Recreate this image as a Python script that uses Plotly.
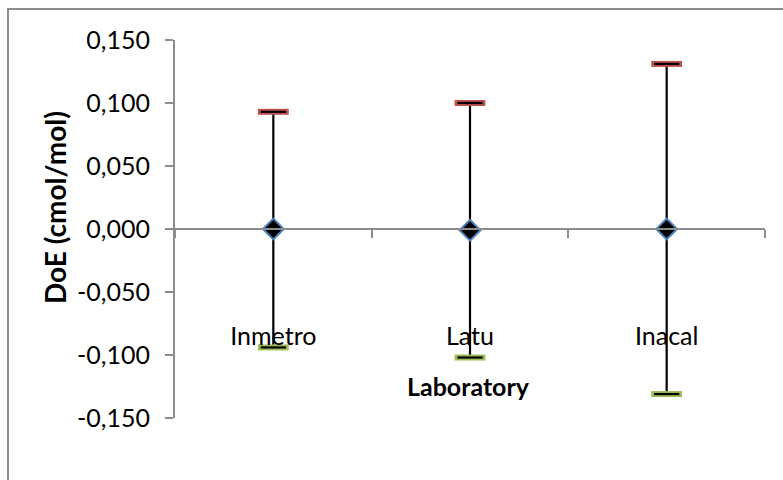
import plotly.graph_objects as go

labs = ["Inmetro", "Latu", "Inacal"]
doe = [0.000, -0.001, 0.000]
upper = [0.093, 0.100, 0.131]
lower = [-0.094, -0.102, -0.131]
yticks = [-0.150, -0.100, -0.050, 0.000, 0.050, 0.100, 0.150]
yticktext = [("%.3f" % v).replace(".", ",") for v in yticks]

FONT = "Lato"
fig = go.Figure()

# vertical high-low lines via error bars
fig.add_trace(go.Scatter(
    x=labs, y=doe, mode="markers",
    marker=dict(size=0.1, color="rgba(0,0,0,0)"),
    error_y=dict(type="data", symmetric=False,
                 array=[u - d for u, d in zip(upper, doe)],
                 arrayminus=[d - l for l, d in zip(lower, doe)],
                 color="black", thickness=2.2, width=0),
    showlegend=False, hoverinfo="skip"))

# caps
fig.add_trace(go.Scatter(x=labs, y=upper, mode="markers",
    marker=dict(symbol="line-ew", size=22, line=dict(color="#C0504D", width=6)),
    showlegend=False))
fig.add_trace(go.Scatter(x=labs, y=lower, mode="markers",
    marker=dict(symbol="line-ew", size=22, line=dict(color="#9BBB59", width=6)),
    showlegend=False))
fig.add_trace(go.Scatter(x=labs + labs, y=upper + lower, mode="markers",
    marker=dict(symbol="line-ew", size=18, line=dict(color="black", width=2.2)),
    showlegend=False))

# diamonds
fig.add_trace(go.Scatter(x=labs, y=doe, mode="markers",
    marker=dict(symbol="diamond", size=16, color="black",
                line=dict(color="#4F81BD", width=2)),
    showlegend=False))

fig.update_layout(
    width=783, height=480,
    margin=dict(l=175, r=18, t=40, b=62),
    paper_bgcolor="white", plot_bgcolor="white",
    font=dict(family=FONT, size=25, color="black"),
    xaxis=dict(
        type="category", range=[-0.5, 2.5],
        showline=True, linecolor="#8c8c8c", linewidth=2,
        ticks="outside", ticklen=8, tickcolor="#8c8c8c", tickwidth=2,
        tickson="boundaries", showgrid=False, zeroline=False,
        anchor="free", position=0.5,
        ticklabelstandoff=85,
    ),
    yaxis=dict(
        range=[-0.15, 0.15], tickvals=yticks, ticktext=yticktext,
        showline=True, linecolor="#8c8c8c", linewidth=2,
        ticks="outside", ticklen=8, tickcolor="#8c8c8c", tickwidth=2,
        ticklabelstandoff=10,
        showgrid=False, zeroline=False,
    ),
    annotations=[
        dict(text="<b>DoE (cmol/mol)</b>", textangle=-90,
             xref="paper", yref="paper",
             x=-120 / 590, y=(418 - 207) / 378,
             xanchor="center", yanchor="middle", showarrow=False,
             font=dict(size=28)),
        dict(text="<b>Laboratory</b>",
             xref="paper", yref="paper",
             x=(468 - 175) / 590, y=(418 - 386) / 378,
             xanchor="center", yanchor="middle", showarrow=False,
             font=dict(size=25)),
    ],
    shapes=[dict(type="rect", xref="paper", yref="paper",
                 x0=-167 / 590, x1=1.5, y0=-1, y1=(480 - 9 - 62) / 378,
                 line=dict(color="#8c8c8c", width=2), layer="below")],
)

fig.write_html("out.html")
